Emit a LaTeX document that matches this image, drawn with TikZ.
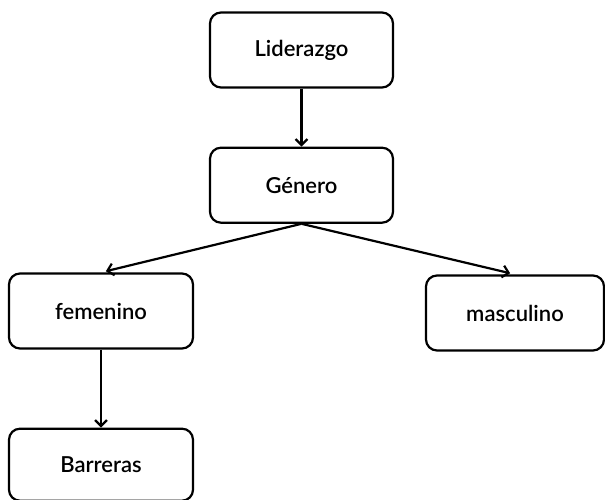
\documentclass[tikz,border=0pt]{standalone}
\usepackage{fontspec}
\setmainfont{Liberation Sans}
\newfontfamily\boxfont{Lato}[UprightFont=* Semibold]
\usepackage{tikz}
\usetikzlibrary{positioning, arrows.meta}
\tikzstyle{concept} = [rectangle, rounded corners=11pt, minimum width=183pt, minimum height=75pt, text centered, draw=black, line width=2.2pt, font=\boxfont\fontsize{22}{26}\selectfont]
\tikzstyle{arrow} = [line width=2.2pt, ->, >={Straight Barb[length=6pt,width=12pt]}]

\begin{document}
\begin{tikzpicture}[x=1pt, y=1pt, node distance=58pt]
        \useasboundingbox (0,0) rectangle (605,-500);

        \node[concept] at (301.5,-50)                          (liderazgo) {Liderazgo};
        \node[concept, below=of liderazgo]                     (genero)    {Género};
        \node[concept, minimum width=184pt] at (101,-311)      (femenino)  {femenino};
        \node[concept, minimum width=178pt] at (515,-313)      (masculino) {masculino};
        \node[concept, minimum width=184pt, minimum height=72pt, below=78pt of femenino] (barreras) {Barreras};

        \draw[arrow] (liderazgo) -- (genero);
        \draw[arrow, shorten >=5pt] (genero.south) -- (femenino.north);
        \draw[arrow, shorten >=5pt] (genero.south) -- (masculino.north);
        \draw[arrow] (femenino) -- (barreras);
    \end{tikzpicture}
\end{document}
